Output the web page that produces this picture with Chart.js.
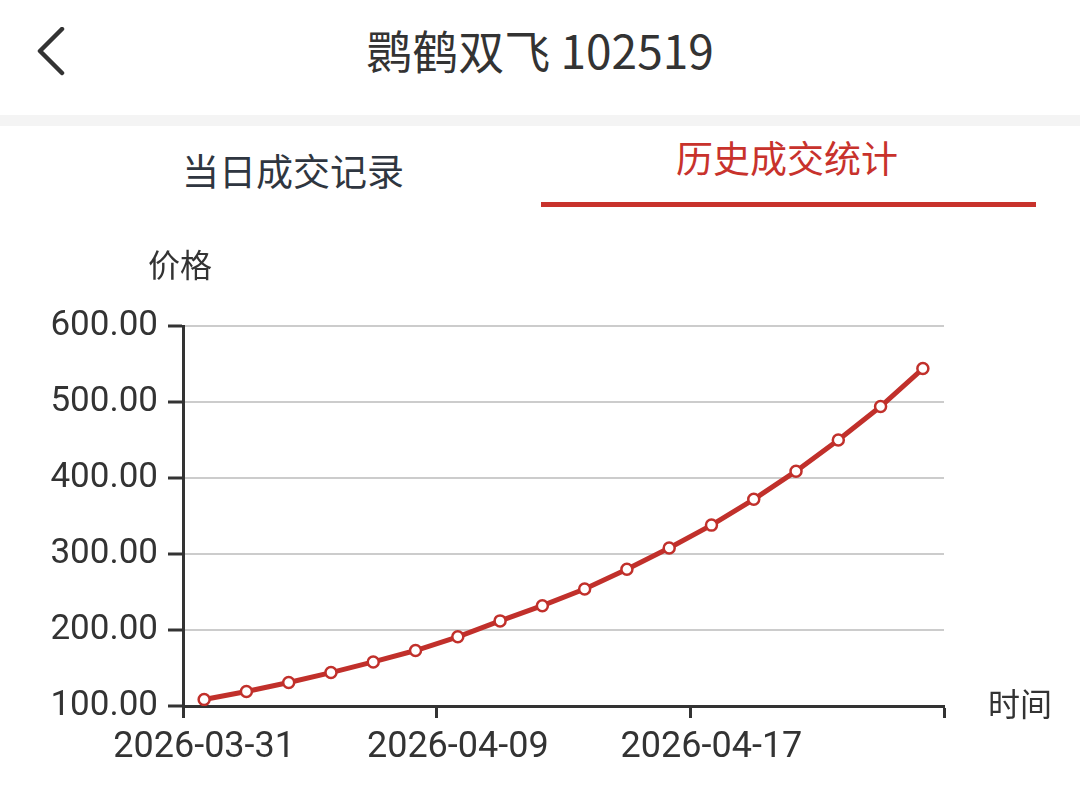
<!DOCTYPE html>
<html>
<head>
<meta charset="utf-8">
<script src="https://cdn.jsdelivr.net/npm/chart.js"></script>
<style>
    body { margin: 0; width: 1080px; height: 797px; background: #fff; overflow: hidden; position: relative; font-family: "Noto Sans CJK SC", sans-serif; }
    .voltar { position: absolute; left: 36px; top: 27px; }
    .titulo { position: absolute; top: 20px; left: 0; width: 100%; text-align: center; font-size: 46px; line-height: 58px; color: #333; }
    .faixa { position: absolute; top: 115px; left: 0; width: 100%; height: 11px; background: #f4f4f4; }
    .aba { position: absolute; width: 400px; text-align: center; font-size: 37px; line-height: 48px; }
    .aba1 { left: 93px; top: 146px; color: #2f3640; }
    .aba2 { left: 587px; top: 133px; color: #c8322c; }
    .sublinha { position: absolute; left: 541px; top: 202px; width: 495px; height: 5px; background: #c8322c; }
    .grafico { position: absolute; left: 0; top: 230px; width: 1080px; height: 567px; }
</style>
</head>
<body>
<svg class="voltar" width="34" height="52"><polyline points="26,2 4,24 26,46" fill="none" stroke="#333" stroke-width="4.5" stroke-linecap="round" stroke-linejoin="round"/></svg>
<div class="titulo">鹮鹤双飞 102519</div>
<div class="faixa"></div>
<div class="aba aba1">当日成交记录</div>
<div class="aba aba2">历史成交统计</div>
<div class="sublinha"></div>
<div class="grafico"><canvas id="precoChart"></canvas></div>

<script>
// dados do gráfico
const datas = [
    '2026-03-31', '2026-04-01', '2026-04-02', '2026-04-03', '2026-04-06', '2026-04-07',
    '2026-04-09', '2026-04-10', '2026-04-11', '2026-04-13', '2026-04-14', '2026-04-15',
    '2026-04-17', '2026-04-18', '2026-04-20', '2026-04-21', '2026-04-22', '2026-04-24'
];
const precos = [108.5, 119, 131, 144, 158, 173, 191, 212, 232, 254, 280, 308, 338, 372, 409, 450, 494, 544];
const yMin = 100;
const yMax = 600;
const yPasso = 100;

const corLinha = '#c1302b';
const corEixo = '#333';

// nomes dos eixos (价格 / 时间)
const nomesEixos = {
    id: 'nomesEixos',
    afterDraw(chart) {
        const { ctx, chartArea } = chart;
        ctx.save();
        ctx.fillStyle = '#333';
        ctx.font = '32px "Noto Sans CJK SC"';
        ctx.textBaseline = 'middle';
        ctx.textAlign = 'center';
        ctx.fillText('价格', chartArea.left - 3, chartArea.top - 61);
        ctx.textAlign = 'left';
        ctx.fillText('时间', chartArea.right + 44, chartArea.bottom - 2);
        ctx.restore();
    }
};

const ctx = document.getElementById('precoChart').getContext('2d');
new Chart(ctx, {
    type: 'line',
    data: {
        labels: datas,
        datasets: [{
            data: precos,
            borderColor: corLinha,
            borderWidth: 5,
            tension: 0,
            pointRadius: 5.5,
            pointBorderWidth: 2.5,
            pointBackgroundColor: '#fff',
            pointBorderColor: corLinha,
            pointHoverRadius: 5.5
        }]
    },
    options: {
        responsive: true,
        maintainAspectRatio: false,
        animation: false,
        layout: { padding: { left: 0, right: 136, top: 96, bottom: 0 } },
        plugins: {
            legend: { display: false },
            tooltip: { enabled: false }
        },
        scales: {
            x: {
                type: 'category',
                offset: true,
                afterFit: (scale) => { scale.height = 91; },
                grid: {
                    offset: true,
                    drawOnChartArea: false,
                    drawTicks: true,
                    tickLength: 12,
                    tickWidth: 3,
                    tickColor: (c) => (c.type !== 'tick' || c.index % 6 === 0) ? corEixo : 'rgba(0,0,0,0)'
                },
                border: { color: corEixo, width: 3 },
                ticks: {
                    autoSkip: false,
                    maxRotation: 0,
                    padding: 8,
                    color: '#333',
                    font: { family: 'Roboto', size: 36 },
                    callback: function (value, index) {
                        return index % 6 === 0 ? this.getLabelForValue(value) : '';
                    }
                }
            },
            y: {
                min: yMin,
                max: yMax,
                afterFit: (scale) => { scale.width = 183; },
                grid: {
                    color: '#cccccc',
                    lineWidth: 2,
                    tickLength: 15,
                    tickWidth: 3,
                    tickColor: corEixo
                },
                border: { color: corEixo, width: 3 },
                ticks: {
                    stepSize: yPasso,
                    padding: 10,
                    color: '#333',
                    font: { family: 'Roboto', size: 35 },
                    callback: (v) => Number(v).toFixed(2)
                }
            }
        }
    },
    plugins: [nomesEixos]
});
</script>
</body>
</html>
